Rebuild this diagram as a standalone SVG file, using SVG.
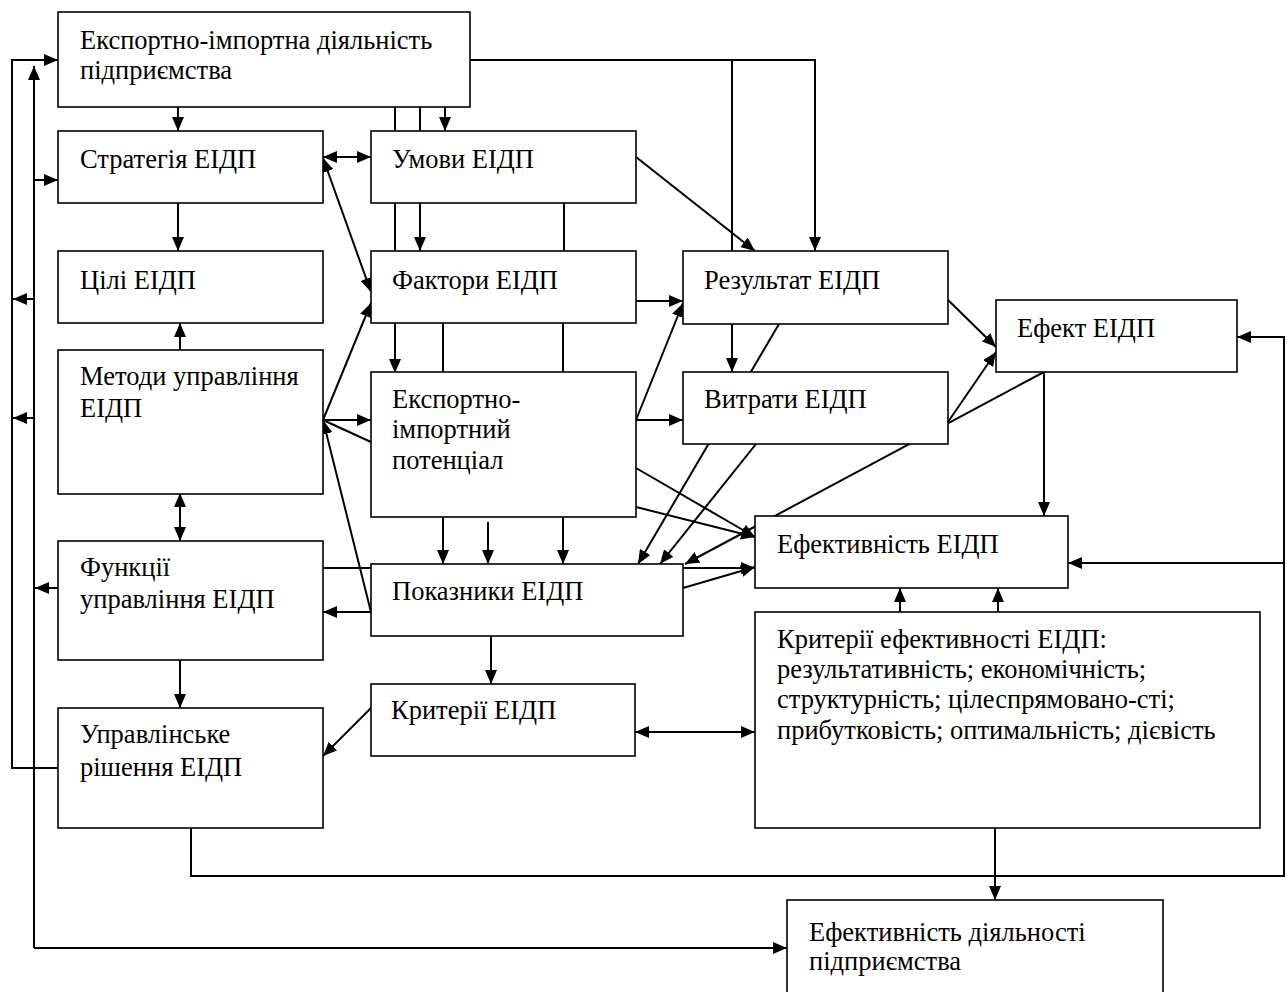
<svg xmlns="http://www.w3.org/2000/svg" width="1287" height="992" viewBox="0 0 1287 992">
<style>
.box{fill:#fff;stroke:#000;stroke-width:1.6}
.t{font-family:"Liberation Serif","Times New Roman",serif;font-size:26.5px;fill:#000}
.c{fill:none;stroke:#000;stroke-width:2}
.a{marker-end:url(#ah)}
.d{marker-start:url(#ah);marker-end:url(#ah)}
</style>
<defs>
<marker id="ah" markerUnits="userSpaceOnUse" markerWidth="14" markerHeight="12" refX="14" refY="6" orient="auto-start-reverse">
<path d="M0,0 L14,6 L0,12 Z" fill="#000"/>
</marker>
</defs>
<rect width="1287" height="992" fill="#fff"/>
<g id="connectors">
<polyline class="c a" points="58,768 12,768 12,60 58,60"/>
<path class="c a" d="M58,588 H35"/>
<path class="c a" d="M34,948 V66"/>
<path class="c a" d="M34,948 H787"/>
<path class="c a" d="M34,180 H58"/>
<path class="c a" d="M34,299 H13"/>
<path class="c a" d="M34,418 H13"/>
<path class="c a" d="M178,107 V131"/>
<path class="c" d="M395,107 V131 M420,107 V131"/>
<path class="c a" d="M445,107 V131"/>
<polyline class="c a" points="470,60 815,60 815,251"/>
<path class="c" d="M732,60 V251"/>
<path class="c a" d="M732,324 V372"/>
<path class="c d" d="M323,157 H371"/>
<path class="c" d="M395,203 V251 M564,203 V251"/>
<path class="c a" d="M420,203 V251"/>
<path class="c a" d="M636,157 L755,251"/>
<path class="c d" d="M323,158 L371,292"/>
<path class="c a" d="M178,203 V251"/>
<path class="c a" d="M636,301 H683"/>
<path class="c a" d="M395,323 V373"/>
<path class="c" d="M443,323 V373 M563,323 V373"/>
<path class="c a" d="M180,372 V323"/>
<path class="c a" d="M323,420 H371"/>
<path class="c a" d="M323,420 L371,303"/>
<path class="c" d="M371,442 L323,420"/>
<path class="c a" d="M371,612 L323,420"/>
<path class="c d" d="M180,493 V541"/>
<path class="c a" d="M636,420 L683,303"/>
<path class="c a" d="M636,420 H683"/>
<path class="c a" d="M636,468 L755,537"/>
<path class="c a" d="M636,507 L755,537"/>
<path class="c a" d="M443,517 V564"/>
<path class="c a" d="M488,522 V564"/>
<path class="c a" d="M563,517 V564"/>
<path class="c a" d="M948,300 L996,347"/>
<path class="c a" d="M779,324 L638,564"/>
<path class="c a" d="M948,422 L996,352"/>
<path class="c a" d="M756,444 L660,564"/>
<path class="c a" d="M1044,372 L685,564"/>
<path class="c a" d="M1044,372 V516"/>
<path class="c" d="M323,568 H371"/>
<path class="c a" d="M683,568 H755"/>
<path class="c a" d="M683,588 L755,567"/>
<path class="c a" d="M371,612 H323"/>
<path class="c a" d="M180,660 V708"/>
<path class="c a" d="M491,636 V684"/>
<path class="c a" d="M371,708 L323,756"/>
<path class="c d" d="M635,732 H755"/>
<path class="c a" d="M900,612 V588"/>
<path class="c a" d="M998,612 V588"/>
<path class="c a" d="M995,828 V900"/>
<polyline class="c a" points="191,828 191,876 1284,876 1284,337 1237,337"/>
<path class="c a" d="M1284,563 H1068"/>
</g>
<g id="n-top"><rect class="box" x="58" y="12" width="412" height="95"/><text class="t" x="80" y="49">Експортно-імпортна діяльність</text><text class="t" x="80" y="79">підприємства</text></g>
<g id="n-strategy"><rect class="box" x="58" y="131" width="265" height="72"/><text class="t" x="80" y="168">Стратегія ЕІДП</text></g>
<g id="n-umovy"><rect class="box" x="371" y="131" width="265" height="72"/><text class="t" x="392" y="168">Умови ЕІДП</text></g>
<g id="n-tsili"><rect class="box" x="58" y="251" width="265" height="72"/><text class="t" x="80" y="289">Цілі ЕІДП</text></g>
<g id="n-faktory"><rect class="box" x="371" y="251" width="265" height="72"/><text class="t" x="392" y="289">Фактори ЕІДП</text></g>
<g id="n-result"><rect class="box" x="683" y="251" width="265" height="73"/><text class="t" x="704" y="289">Результат ЕІДП</text></g>
<g id="n-efekt"><rect class="box" x="996" y="300" width="241" height="72"/><text class="t" x="1017" y="337">Ефект ЕІДП</text></g>
<g id="n-metody"><rect class="box" x="58" y="350" width="265" height="144"/><text class="t" x="80" y="385">Методи управління</text><text class="t" x="80" y="417">ЕІДП</text></g>
<g id="n-potential"><rect class="box" x="371" y="372" width="265" height="145"/><text class="t" x="392" y="408">Експортно-</text><text class="t" x="392" y="438">імпортний</text><text class="t" x="392" y="469">потенціал</text></g>
<g id="n-vytraty"><rect class="box" x="683" y="372" width="265" height="72"/><text class="t" x="704" y="408">Витрати ЕІДП</text></g>
<g id="n-efektyvnist"><rect class="box" x="755" y="516" width="313" height="72"/><text class="t" x="777" y="553">Ефективність ЕІДП</text></g>
<g id="n-funktsii"><rect class="box" x="58" y="541" width="265" height="119"/><text class="t" x="80" y="576">Функції</text><text class="t" x="80" y="608">управління ЕІДП</text></g>
<g id="n-pokaznyky"><rect class="box" x="371" y="564" width="312" height="72"/><text class="t" x="392" y="600">Показники ЕІДП</text></g>
<g id="n-kryterii"><rect class="box" x="371" y="684" width="264" height="72"/><text class="t" x="391" y="719">Критерії ЕІДП</text></g>
<g id="n-upravl"><rect class="box" x="58" y="708" width="265" height="120"/><text class="t" x="80" y="743">Управлінське</text><text class="t" x="80" y="776">рішення ЕІДП</text></g>
<g id="n-kryterii-ef"><rect class="box" x="755" y="612" width="505" height="216"/><text class="t" x="777" y="648">Критерії ефективності ЕІДП:</text><text class="t" x="777" y="678">результативність; економічність;</text><text class="t" x="777" y="708">структурність; цілеспрямовано-сті;</text><text class="t" x="777" y="739">прибутковість; оптимальність; дієвість</text></g>
<g id="n-edp"><rect class="box" x="787" y="900" width="376" height="100"/><text class="t" x="809" y="941">Ефективність діяльності</text><text class="t" x="809" y="970">підприємства</text></g>
</svg>
